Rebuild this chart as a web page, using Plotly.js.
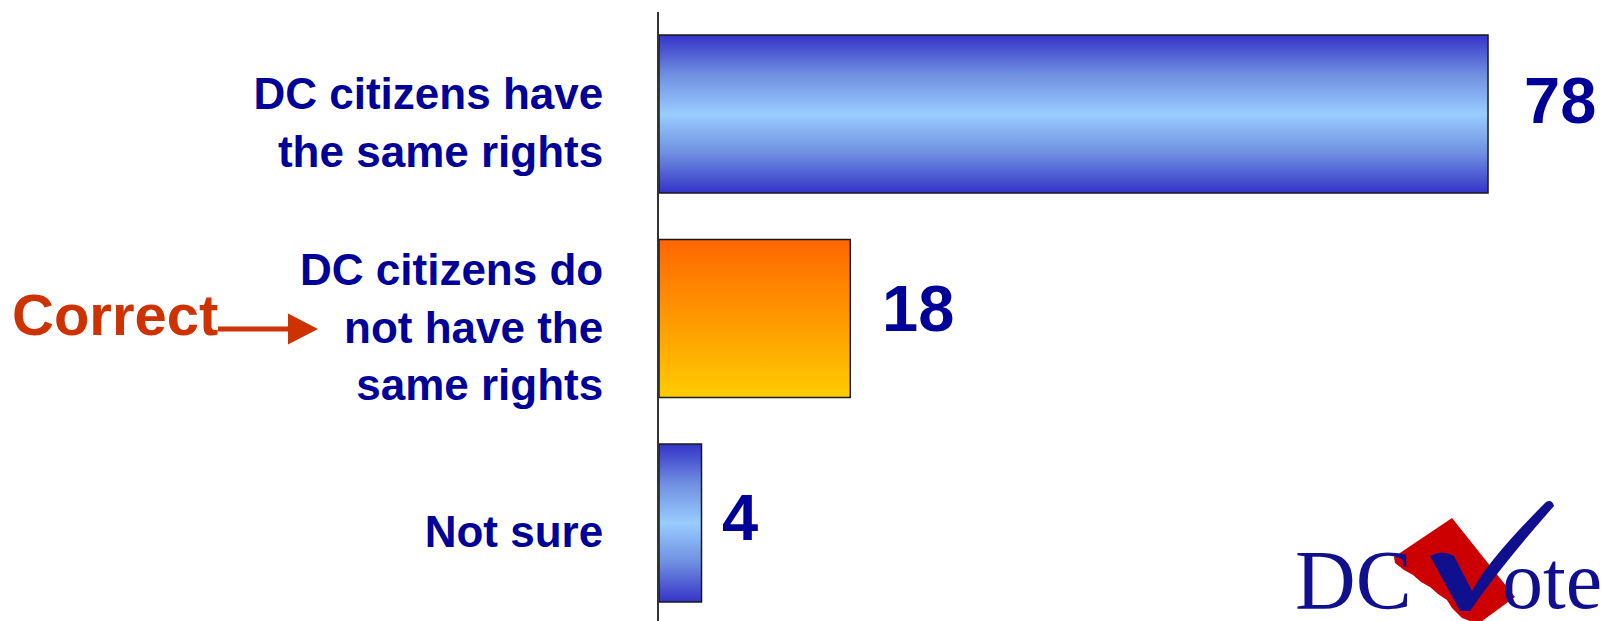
<!DOCTYPE html>
<html>
<head>
<meta charset="utf-8">
<script src="https://cdn.plot.ly/plotly-3.0.1.min.js"></script>
<style>
  html, body { margin: 0; padding: 0; background: #ffffff; }
  #chart { width: 1606px; height: 621px; }
</style>
</head>
<body>
<div id="chart"></div>
<script>
// ---------- data ----------
const categories = [
  'DC citizens have<br>the same rights',
  'DC citizens do<br>not have the<br>same rights',
  'Not sure'
];
const values = [78, 18, 4];
const valueLabels = ['78', '18', '4'];
const highlightLabel = 'Correct';
const logoText = ['DC', 'ote'];

// ---------- styles ----------
const NAVY = '#000099';
const BLUE_SCALE = [[0, '#3434c8'], [0.25, '#6f8fe0'], [0.5, '#99ccff'], [0.75, '#6f8fe0'], [1, '#3434c8']];
const ORANGE_SCALE = [[0, '#ffcc00'], [1, '#ff6600']];
const barScales = [BLUE_SCALE, ORANGE_SCALE, BLUE_SCALE];
const BAR_HALF = 0.386;
const labelShift = [34, 30, 18];
const labelLift = [14, 10, 6];
const LOGO_BLUE = '#10108f';

// layout geometry (pixels)
const WIDTH = 1606, HEIGHT = 621;
const L = 659, T = 12, R = 0, B = 0;
const PW = WIDTH - L - R, PH = HEIGHT - T - B;
const px = x => (x - L) / PW;
const py = y => 1 - (y - T) / PH;
const P = (x, y) => px(x).toFixed(5) + ',' + py(y).toFixed(5);

const n = categories.length;
const pos = categories.map((c, i) => n - 1 - i);

const traces = values.map((v, i) => {
  const p = pos[i];
  return {
    type: 'scatter',
    mode: 'lines',
    name: categories[i].replace(/<br>/g, ' '),
    x: [0, v, v, 0, 0],
    y: [p - BAR_HALF, p - BAR_HALF, p + BAR_HALF, p + BAR_HALF, p - BAR_HALF],
    fill: 'toself',
    fillgradient: {
      type: 'vertical',
      colorscale: barScales[i],
      start: p - BAR_HALF,
      stop: p + BAR_HALF
    },
    line: { color: '#1a1a1a', width: 1.5 },
    hoverinfo: 'skip',
    showlegend: false
  };
});

const annotations = values.map((v, i) => ({
  x: v, y: pos[i], xref: 'x', yref: 'y',
  xanchor: 'left', yanchor: 'middle',
  xshift: labelShift[i], yshift: labelLift[i],
  text: valueLabels[i], showarrow: false,
  font: { family: 'Liberation Sans, Arial, sans-serif', size: 65, color: NAVY, weight: 'bold' }
}));

annotations.push({
  x: px(115), y: py(314), xref: 'paper', yref: 'paper',
  xanchor: 'center', yanchor: 'middle', showarrow: false,
  text: highlightLabel,
  font: { family: 'Liberation Sans, Arial, sans-serif', size: 58, color: '#cc3300', weight: 'bold' }
});

annotations.push({
  x: px(1293), y: py(580), xref: 'paper', yref: 'paper',
  xanchor: 'left', yanchor: 'middle', showarrow: false,
  text: logoText[0],
  font: { family: 'Liberation Serif, Times New Roman, serif', size: 84, color: LOGO_BLUE }
});
annotations.push({
  x: px(1500), y: py(580), xref: 'paper', yref: 'paper',
  xanchor: 'left', yanchor: 'middle', showarrow: false,
  text: logoText[1],
  font: { family: 'Liberation Serif, Times New Roman, serif', size: 82, color: LOGO_BLUE }
});

function pathFrom(points) {
  return points.map((pt, k) => (k === 0 ? 'M ' : 'L ') + P(pt[0], pt[1])).join(' ') + ' Z';
}

const shapes = [
  // arrow shaft
  { type: 'rect', xref: 'paper', yref: 'paper', x0: px(218), x1: px(290), y0: py(326.5), y1: py(331.5),
    fillcolor: '#cc3300', line: { width: 0 } },
  // arrow head
  { type: 'path', xref: 'paper', yref: 'paper',
    path: pathFrom([[288, 313.5], [318, 329], [288, 344.5]]),
    fillcolor: '#cc3300', line: { width: 0 } },
  // logo: red DC shape
  { type: 'path', xref: 'paper', yref: 'paper',
    path: pathFrom([[1452, 518], [1515, 597], [1478, 624], [1462, 618], [1452, 608], [1447, 600],
                    [1438, 594], [1430, 587], [1421, 582], [1413, 575], [1404, 570], [1395, 563], [1394, 557]]),
    fillcolor: '#cc0000', line: { width: 0 } },
  // logo: blue check mark
  { type: 'path', xref: 'paper', yref: 'paper',
    path: 'M ' + P(1430, 556) +
          ' Q ' + P(1442, 549) + ' ' + P(1454, 556) +
          ' L ' + P(1472, 591) +
          ' Q ' + P(1488, 560) + ' ' + P(1546, 502) +
          ' Q ' + P(1552, 499) + ' ' + P(1554, 506) +
          ' Q ' + P(1500, 567) + ' ' + P(1470, 611) +
          ' L ' + P(1460, 611) + ' Z',
    fillcolor: LOGO_BLUE, line: { width: 0 } }
];

const layout = {
  width: WIDTH, height: HEIGHT,
  margin: { l: L, r: R, t: T, b: B, pad: 0 },
  paper_bgcolor: '#ffffff', plot_bgcolor: '#ffffff',
  showlegend: false,
  xaxis: {
    range: [0, 89.1], visible: false, fixedrange: true
  },
  yaxis: {
    range: [-0.479, 2.499], autorange: false, fixedrange: true,
    tickmode: 'array',
    tickvals: pos.map(p => p - 0.042),
    ticktext: categories,
    ticks: '', showgrid: false, zeroline: false,
    showline: true, linecolor: '#333333', linewidth: 2,
    ticklabelstandoff: 45,
    tickfont: { family: 'Liberation Sans, Arial, sans-serif', size: 44, color: NAVY, weight: 'bold' }
  },
  annotations: annotations,
  shapes: shapes
};

Plotly.newPlot('chart', traces, layout, { staticPlot: true, displayModeBar: false });
</script>
</body>
</html>
